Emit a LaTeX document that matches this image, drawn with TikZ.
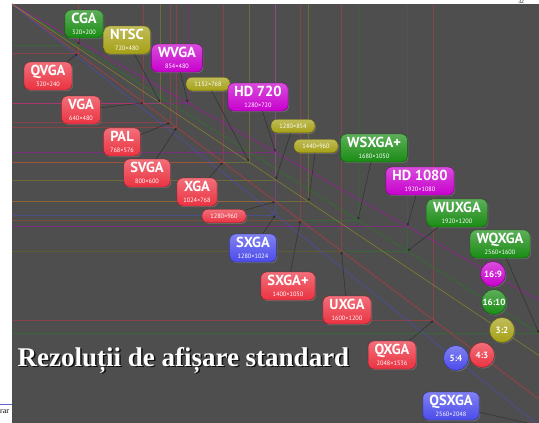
\documentclass[tikz,border=0pt]{standalone}
\usepackage{fontspec}
\setmainfont{Liberation Serif}
\newfontfamily\labelfont{PT Sans}
\usepackage{xcolor}
\usepackage{tikz}
\usetikzlibrary{shadows, arrows.meta}

\definecolor{resred}{RGB}{235,50,65}
\definecolor{resgreen}{RGB}{25,140,20}
\definecolor{resmag}{RGB}{200,0,205}
\definecolor{resolive}{RGB}{165,160,20}
\definecolor{resblue}{RGB}{75,75,235}
\definecolor{slidebg}{RGB}{78,78,78}
\definecolor{footblue}{RGB}{100,100,215}

\newcommand{\dims}[1]{{\mdseries\fontsize{6.3}{7}\selectfont #1}}

\begin{document}
\begin{tikzpicture}[
    x=1pt, y=-1pt,
    res/.style={rectangle, rounded corners=6pt, draw=#1!60!black, line width=0.4pt, top color=#1!70!white, bottom color=#1, text=white, align=center, inner xsep=6.5pt, inner ysep=1pt, minimum height=28pt, font=\labelfont\bfseries\fontsize{14.5}{11.5}\selectfont, drop shadow={opacity=0.55, shadow xshift=1pt, shadow yshift=-1.2pt}},
    pill/.style={res=#1, minimum height=13.5pt, minimum width=44pt, inner ysep=0pt, font=\labelfont\fontsize{6.3}{7}\selectfont},
    ratio/.style={res=#1, circle, minimum size=25pt, inner sep=0pt, font=\labelfont\bfseries\fontsize{9}{9}\selectfont},
    grid/.style={draw opacity=0.36, line width=0.6pt},
    diag/.style={draw opacity=0.55, line width=0.7pt},
    ptr/.style={-{Latex[length=3pt, width=2.5pt]}, black!85, line width=0.45pt, opacity=0.8}
]
\useasboundingbox (0,0) rectangle (539,423);

% slide frame
\node[anchor=base, inner sep=0pt, font=\fontsize{5.5}{6}\selectfont] (pagenum) at (521,4) {32};
\node[anchor=base east, font=\fontsize{8}{8}\selectfont] (footer) at (12.5,413) {rar};
\coordinate (footl) at (0,404);
\coordinate (footr) at (12,404);
\draw[footblue, line width=0.8pt] (footl) -- (footr);
\fill[slidebg] (12,4) rectangle (539,423);
\draw[black!70, line width=1pt] (12,423) -- (12,4) -- (539,4);

% chart, in screen pixels
\begin{scope}[shift={(12,4)}, x=0.2059pt, y=-0.2059pt]
  \foreach \w/\h/\c in {320/200/resgreen, 320/240/resred, 720/480/resolive, 640/480/resred,
      854/480/resmag, 768/576/resred, 800/600/resred, 1152/768/resolive, 1024/768/resred,
      1280/720/resmag, 1280/854/resolive, 1280/960/resred, 1280/1024/resblue,
      1440/960/resolive, 1680/1050/resgreen, 1400/1050/resred, 1920/1080/resmag,
      1600/1200/resred, 1920/1200/resgreen, 2560/1600/resgreen, 2048/1536/resred,
      2560/2048/resblue}
  {
    \draw[grid, \c] (0,\h) -| (\w,0);
    \coordinate (c\w x\h) at (\w,\h);
  }
  \foreach \h/\c in {1920/resred, 2048/resblue, 1600/resgreen, 1440/resmag, 1707/resolive}
    \draw[diag, \c] (0,0) -- (2560,\h);
\end{scope}

% title
\node[anchor=base west, text=black, opacity=0.8, font=\bfseries\fontsize{27}{30}\selectfont] (titleshadow) at (15.5,367.5) {Rezoluții de afișare standard};
\node[anchor=base west, text=white, font=\bfseries\fontsize{27}{30}\selectfont] (title) at (14,366) {Rezoluții de afișare standard};

% resolutions
\node[res=resgreen] (cga) at (84,24) {CGA\\[-1pt]\dims{320×200}};
\node[res=resolive] (ntsc) at (127,40) {NTSC\\[-1pt]\dims{720×480}};
\node[res=resmag] (wvga) at (177,58) {WVGA\\[-1pt]\dims{854×480}};
\node[res=resred] (qvga) at (48,76) {QVGA\\[-1pt]\dims{320×240}};
\node[res=resred] (vga) at (81,110) {VGA\\[-1pt]\dims{640×480}};
\node[pill=resolive] (p1152) at (208,84) {1152×768};
\node[res=resmag] (hd720) at (258,97) {HD 720\\[-1pt]\dims{1280×720}};
\node[pill=resolive] (p1280) at (293,126) {1280×854};
\node[pill=resolive] (p1440) at (316,146) {1440×960};
\node[res=resred] (pal) at (122,142) {PAL\\[-1pt]\dims{768×576}};
\node[res=resgreen] (wsxgap) at (374,148) {WSXGA+\\[-1pt]\dims{1680×1050}};
\node[res=resred] (svga) at (147,173) {SVGA\\[-1pt]\dims{800×600}};
\node[res=resmag] (hd1080) at (420,181) {HD 1080\\[-1pt]\dims{1920×1080}};
\node[res=resred] (xga) at (197,192) {XGA\\[-1pt]\dims{1024×768}};
\node[res=resgreen] (wuxga) at (457,213) {WUXGA\\[-1pt]\dims{1920×1200}};
\node[pill=resred] (p960) at (224,216) {1280×960};
\node[res=resgreen] (wqxga) at (500,244) {WQXGA\\[-1pt]\dims{2560×1600}};
\node[res=resblue] (sxga) at (253,248) {SXGA\\[-1pt]\dims{1280×1024}};
\node[res=resred] (sxgap) at (288,286) {SXGA+\\[-1pt]\dims{1400×1050}};
\node[res=resred] (uxga) at (347,310) {UXGA\\[-1pt]\dims{1600×1200}};
\node[res=resred] (qxga) at (392,355) {QXGA\\[-1pt]\dims{2048×1536}};
\node[res=resblue] (qsxga) at (451,406) {QSXGA\\[-1pt]\dims{2560×2048}};

% aspect ratios
\node[ratio=resmag] (r169) at (493,274) {16:9};
\node[ratio=resgreen] (r1610) at (494,302) {16:10};
\node[ratio=resolive] (r32) at (502,330) {3:2};
\node[ratio=resblue] (r54) at (456,358) {5:4};
\node[ratio=resred] (r43) at (482,355) {4:3};

% pointers to the corners
\draw[ptr] (cga) -- (c320x200);
\draw[ptr] (qvga) -- (c320x240);
\draw[ptr] (ntsc) -- (c720x480);
\draw[ptr] (vga) -- (c640x480);
\draw[ptr] (wvga) -- (c854x480);
\draw[ptr] (pal) -- (c768x576);
\draw[ptr] (svga) -- (c800x600);
\draw[ptr] (p1152) -- (c1152x768);
\draw[ptr] (xga) -- (c1024x768);
\draw[ptr] (hd720) -- (c1280x720);
\draw[ptr] (p1280) -- (c1280x854);
\draw[ptr] (p960) -- (c1280x960);
\draw[ptr] (sxga) -- (c1280x1024);
\draw[ptr] (p1440) -- (c1440x960);
\draw[ptr] (wsxgap) -- (c1680x1050);
\draw[ptr] (sxgap) -- (c1400x1050);
\draw[ptr] (hd1080) -- (c1920x1080);
\draw[ptr] (uxga) -- (c1600x1200);
\draw[ptr] (wuxga) -- (c1920x1200);
\draw[ptr] (wqxga) -- (c2560x1600);
\draw[ptr] (qxga) -- (c2048x1536);
\draw[ptr] (qsxga) -- (c2560x2048);

\end{tikzpicture}
\end{document}
